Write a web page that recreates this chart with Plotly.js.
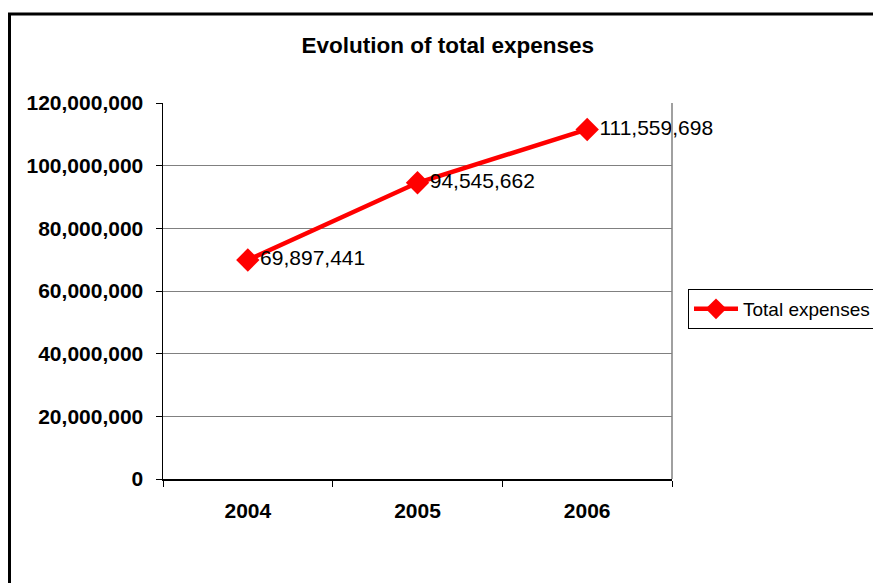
<!DOCTYPE html>
<html>
<head>
<meta charset="utf-8">
<script src="https://cdn.plot.ly/plotly-3.0.1.min.js"></script>
<style>html,body{margin:0;padding:0;background:#fff;overflow:hidden;}#chart{width:873px;height:583px;}</style>
</head>
<body>
<div id="chart"></div>
<script>
const years = ['2004', '2005', '2006'];
const totalExpenses = [69897441, 94545662, 111559698];
const labels = ['69,897,441', '94,545,662', '111,559,698'];
const seriesName = 'Total expenses';
const yTicks = [0, 20000000, 40000000, 60000000, 80000000, 100000000, 120000000];
const yTickText = ['0', '20,000,000', '40,000,000', '60,000,000', '80,000,000', '100,000,000', '120,000,000'];

const FONT = 'Liberation Sans, Arial, sans-serif';

const trace = {
  x: years,
  y: totalExpenses,
  type: 'scatter',
  mode: 'lines+markers+text',
  name: seriesName,
  text: labels,
  textposition: 'middle right',
  textfont: {family: FONT, size: 21, color: '#000'},
  line: {color: '#ff0000', width: 4.5},
  marker: {symbol: 'diamond', size: 18, color: '#ff0000'},
  cliponaxis: false
};

const layout = {
  width: 873,
  height: 583,
  margin: {l: 163, r: 201, t: 103, b: 104, autoexpand: false},
  paper_bgcolor: '#fff',
  plot_bgcolor: '#fff',
  font: {family: FONT, color: '#000'},
  title: {
    text: '<b>Evolution of total expenses</b>',
    font: {family: FONT, size: 22.5, color: '#000'},
    x: 0.513, xref: 'container', xanchor: 'center',
    y: 1 - 45/583, yref: 'container', yanchor: 'middle'
  },
  xaxis: {
    type: 'category',
    range: [-0.5, 2.5],
    tickson: 'boundaries',
    ticks: 'outside',
    ticklen: 6,
    tickcolor: '#000',
    showline: true,
    linecolor: '#000',
    linewidth: 1.5,
    showgrid: false,
    zeroline: false,
    tickfont: {family: FONT, size: 21, color: '#000', weight: 'bold'},
    ticklabelstandoff: 12,
    fixedrange: true
  },
  yaxis: {
    range: [0, 120000000],
    tickvals: yTicks,
    ticktext: yTickText,
    ticks: 'outside',
    ticklen: 6,
    tickcolor: '#000',
    showline: true,
    linecolor: '#000',
    linewidth: 1.5,
    showgrid: true,
    gridcolor: '#808080',
    gridwidth: 1,
    zeroline: false,
    tickfont: {family: FONT, size: 21, color: '#000', weight: 'bold'},
    ticklabelstandoff: 8,
    fixedrange: true
  },
  showlegend: true,
  legend: {
    x: (688 - 163) / 509,
    y: (479 - 309) / 376,
    xanchor: 'left',
    yanchor: 'middle',
    bordercolor: '#000',
    borderwidth: 1,
    bgcolor: '#fff',
    itemwidth: 44,
    font: {family: FONT, size: 19, color: '#000'}
  },
  shapes: [
    {type: 'line', xref: 'paper', yref: 'paper', x0: 1, x1: 1, y0: 0, y1: 1, line: {color: '#808080', width: 1.5}},
    {type: 'line', xref: 'paper', yref: 'paper', x0: (9.5 - 163) / 509, x1: (9.5 - 163) / 509, y0: (479 - 14) / 376, y1: (479 - 600) / 376, line: {color: '#000', width: 3}},
    {type: 'line', xref: 'paper', yref: 'paper', x0: (8 - 163) / 509, x1: (873 - 163) / 509, y0: (479 - 14) / 376, y1: (479 - 14) / 376, line: {color: '#000', width: 3}}
  ]
};

Plotly.newPlot('chart', [trace], layout, {displayModeBar: false, staticPlot: true});
</script>
</body>
</html>
